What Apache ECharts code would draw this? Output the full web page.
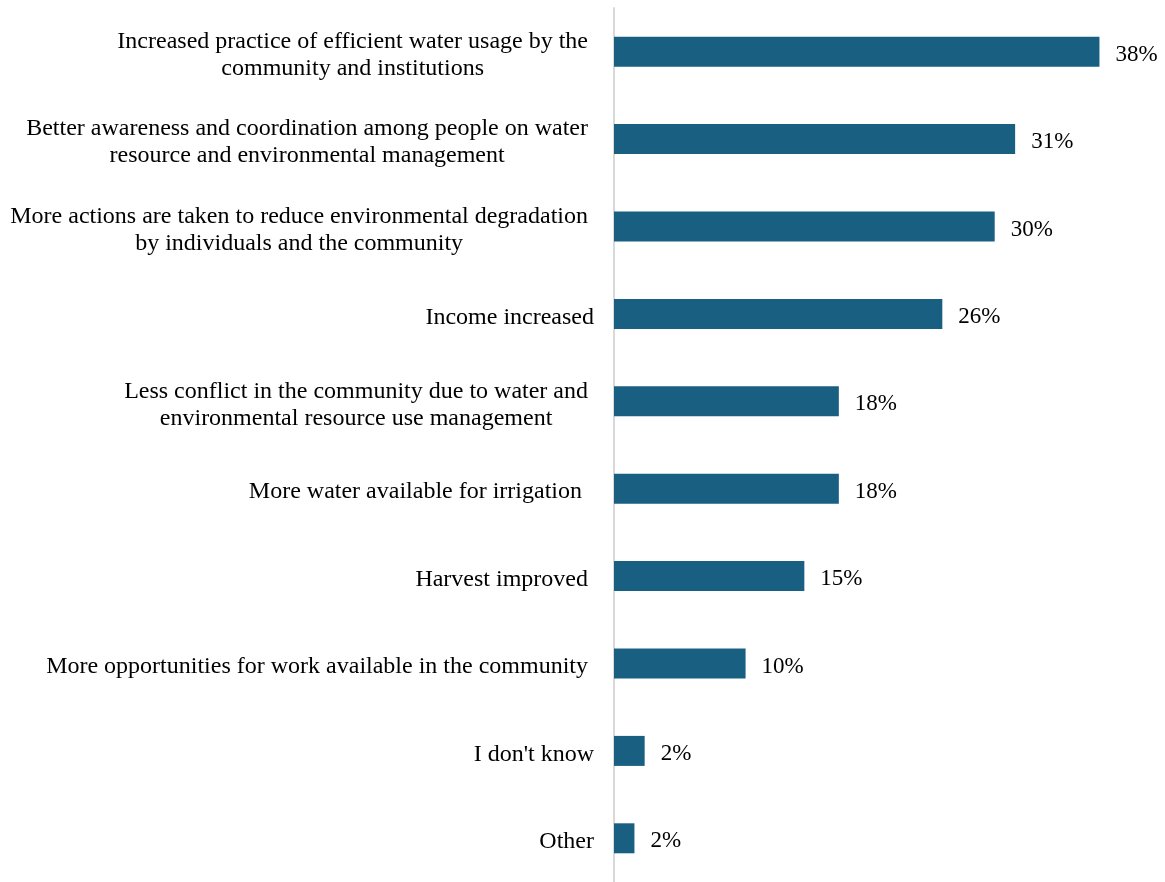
<!DOCTYPE html>
<html>
<head>
<meta charset="utf-8">
<style>
  html, body { margin: 0; padding: 0; background: #fff; }
  #chart { width: 1165px; height: 882px; }
</style>
<script src="https://cdn.jsdelivr.net/npm/echarts@6/dist/echarts.min.js"></script>
</head>
<body>
<div id="chart"></div>
<script>
// categories, top to bottom (trailing spaces as in the original labels)
var categories = [
    'Increased practice of efficient water usage by the \ncommunity and institutions ',
    'Better awareness and coordination among people on water \nresource and environmental management ',
    'More actions are taken to reduce environmental degradation \nby individuals and the community ',
    'Income increased',
    'Less conflict in the community due to water and \nenvironmental resource use management ',
    'More water available for irrigation  ',
    'Harvest improved ',
    'More opportunities for work available in the community ',
    "I don't know",
    'Other'
];
// share of respondents, %
var values = [38.0, 31.4, 29.8, 25.7, 17.6, 17.6, 14.9, 10.3, 2.4, 1.6];

var myChart = echarts.init(document.getElementById('chart'));

var option = {
    animation: false,
    grid: {
        left: 614,
        right: 40,
        top: 8,
        bottom: 0
    },
    xAxis: {
        type: 'value',
        min: 0,
        max: 40,
        show: false
    },
    yAxis: {
        type: 'category',
        data: categories,
        inverse: true,
        axisLine: {
            lineStyle: {
                color: '#d9d9d9',
                width: 2
            }
        },
        axisTick: { show: false },
        splitLine: { show: false },
        axisLabel: {
            margin: 20,
            align: 'right',
            padding: [7, 0, 0, 0],
            formatter: function (val) {
                // center each line inside the label block, like the original
                return val.split('\n').map(function (s) {
                    return '{c|' + s + '}';
                }).join('\n');
            },
            rich: {
                c: {
                    align: 'center',
                    fontFamily: 'Liberation Serif',
                    fontSize: 24,
                    lineHeight: 27,
                    color: '#000'
                }
            }
        }
    },
    series: [{
        type: 'bar',
        data: values,
        barWidth: 30,
        itemStyle: {
            color: '#185f82'
        },
        label: {
            show: true,
            position: 'right',
            distance: 16,
            offset: [0, 3],
            fontFamily: 'Liberation Serif',
            fontSize: 23,
            color: '#000',
            formatter: function (p) {
                return Math.round(p.value) + '%';
            }
        }
    }]
};

myChart.setOption(option);
</script>
</body>
</html>
